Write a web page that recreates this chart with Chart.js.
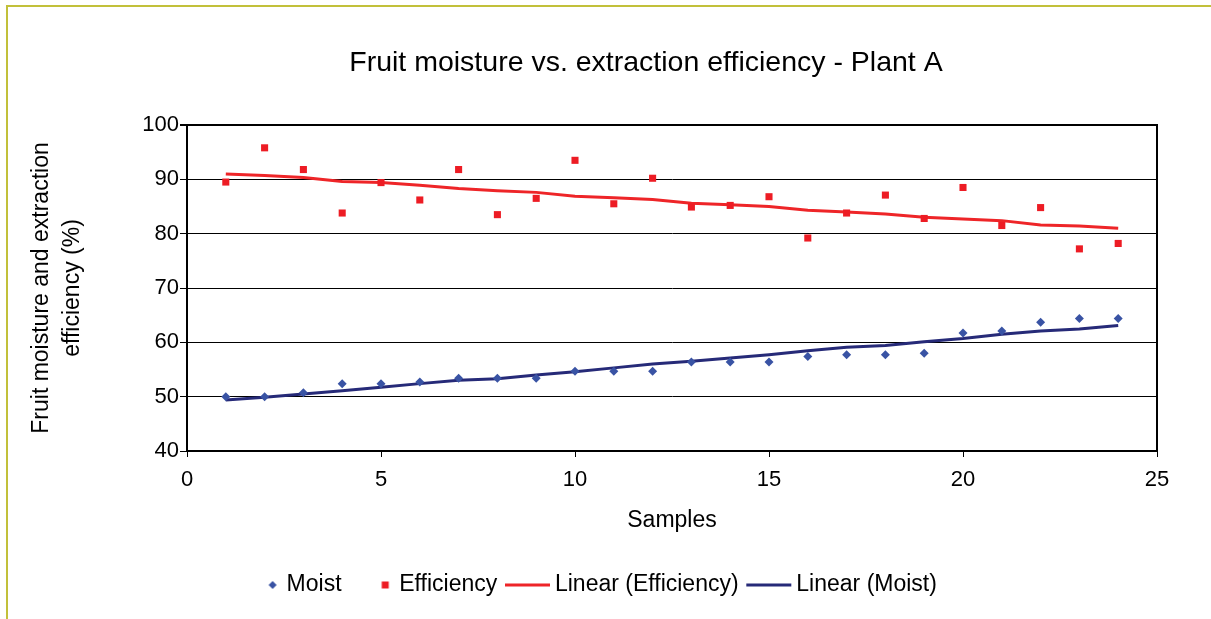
<!DOCTYPE html>
<html><head><meta charset="utf-8">
<script src="https://cdn.jsdelivr.net/npm/chart.js@4.4.1/dist/chart.umd.min.js"></script>
<style>
html,body{margin:0;padding:0;background:#fff;overflow:hidden;}
#wrap{position:relative;width:1211px;height:619px;}
#frame{position:absolute;left:6px;top:5px;width:1400px;height:800px;border-left:2px solid #c2c03a;border-top:2px solid #c2c03a;box-sizing:border-box;}
canvas{position:absolute;left:0;top:0;}
</style></head><body>
<div id="wrap"><div id="frame"></div><canvas id="c" width="1211" height="619"></canvas></div>
<script>
const samples = [1,2,3,4,5,6,7,8,9,10,11,12,13,14,15,16,17,18,19,20,21,22,23,24];
const moist = [50.0,50.0,50.7,52.4,52.4,52.7,53.4,53.4,53.4,54.7,54.7,54.7,56.4,56.4,56.4,57.4,57.7,57.7,58.0,61.7,62.1,63.7,64.4,64.4];
const efficiency = [89.5,95.8,91.8,83.8,89.4,86.2,91.8,83.5,86.5,93.5,85.5,90.2,84.9,85.2,86.8,79.2,83.8,87.1,82.8,88.5,81.5,84.8,77.2,78.2];
const efficiencyTrend = [91.0,90.7,90.35,89.6,89.4,88.9,88.3,87.9,87.6,86.9,86.6,86.3,85.6,85.3,85.0,84.3,84.0,83.6,83.0,82.7,82.4,81.6,81.4,81.0];
const moistTrend = [49.4,49.9,50.5,51.1,51.75,52.4,53.0,53.3,54.0,54.6,55.3,56.0,56.5,57.1,57.7,58.45,59.1,59.4,60.1,60.7,61.5,62.1,62.45,63.1];
const xTicks = {min: 0, max: 25, step: 5};
const yTicks = {min: 40, max: 100, step: 10};
const titleText = 'Fruit moisture vs. extraction efficiency - Plant A';
const xTitle = 'Samples';
const yTitle = ['Fruit moisture and extraction', 'efficiency (%)'];

const BLUE = '#3953a4', RED = '#ed1c24', NAVY = '#262a78', RED_LINE = '#ee2528';

function pts(ys){ return samples.map((s,i)=>({x:s, y:ys[i]})); }

function legendIcon(kind, color){
  const c = document.createElement('canvas');
  c.width = 120; c.height = 20;
  const g = c.getContext('2d');
  g.fillStyle = color; g.strokeStyle = color;
  if (kind === 'diamond') {
    g.beginPath(); g.moveTo(58,6); g.lineTo(62,10); g.lineTo(58,14); g.lineTo(54,10); g.closePath(); g.fill();
  } else if (kind === 'square') {
    g.fillRect(54.5,6.5,7,7);
  } else {
    g.lineWidth = 3; g.beginPath(); g.moveTo(22,10); g.lineTo(67,10); g.stroke();
  }
  return c;
}

Chart.defaults.font.family = "'Liberation Sans', Arial, sans-serif";
Chart.defaults.color = '#000';

const titleShift = {
  id: 'titleShift',
  afterLayout(chart, args, opts){
    const t = chart.titleBlock;
    if (t) { t.left += opts.dx; t.right += opts.dx; }
  }
};

new Chart(document.getElementById('c'), {
  type: 'scatter',
  data: {
    datasets: [
      {label: 'Moist', data: pts(moist), pointStyle: 'rectRot', pointRadius: 4.5, backgroundColor: BLUE, borderColor: BLUE, borderWidth: 0, icon: 'diamond'},
      {label: 'Efficiency', data: pts(efficiency), pointStyle: 'rect', pointRadius: 5, backgroundColor: RED, borderColor: RED, borderWidth: 0, icon: 'square'},
      {label: 'Linear (Efficiency)', data: pts(efficiencyTrend), showLine: true, pointRadius: 0, borderColor: RED_LINE, backgroundColor: RED_LINE, borderWidth: 3, tension: 0, icon: 'line'},
      {label: 'Linear (Moist)', data: pts(moistTrend), showLine: true, pointRadius: 0, borderColor: NAVY, backgroundColor: NAVY, borderWidth: 3, tension: 0, icon: 'line'}
    ]
  },
  plugins: [titleShift],
  options: {
    responsive: false,
    animation: false,
    devicePixelRatio: 1,
    layout: {padding: {left: 20, right: 20, top: 0, bottom: 12.5}},
    plugins: {
      titleShift: {dx: 40.5},
      tooltip: {enabled: false},
      title: {
        display: true, text: titleText, color: '#000',
        font: {size: 28.5, weight: 'normal', lineHeight: 1.2},
        padding: {top: 45.9, bottom: 44.9}
      },
      legend: {
        position: 'bottom',
        labels: {
          usePointStyle: true,
          boxWidth: 1, boxHeight: 10,
          padding: 45.2,
          color: '#000',
          font: {size: 23},
          generateLabels(chart){
            return chart.data.datasets.map((ds, i) => ({
              text: ds.label,
              pointStyle: legendIcon(ds.icon, ds.borderColor),
              fillStyle: ds.backgroundColor,
              strokeStyle: ds.borderColor,
              lineWidth: 0,
              hidden: !chart.isDatasetVisible(i),
              datasetIndex: i,
              fontColor: '#000'
            }));
          }
        }
      }
    },
    scales: {
      x: {
        type: 'linear', position: 'bottom',
        min: xTicks.min, max: xTicks.max,
        ticks: {stepSize: xTicks.step, font: {size: 22}, color: '#000', padding: 10},
        grid: {drawOnChartArea: false, drawTicks: true, tickLength: 6, color: '#000'},
        border: {color: '#000', width: 2},
        title: {display: true, text: xTitle, color: '#000', font: {size: 23, lineHeight: 0.635}, padding: {top: 0, bottom: 0}},
        afterFit(s){ s.height = 77.3; }
      },
      y: {
        type: 'linear', position: 'left',
        min: yTicks.min, max: yTicks.max,
        ticks: {stepSize: yTicks.step, font: {size: 22}, color: '#000', padding: 1},
        grid: {color: '#000', lineWidth: c => (c.tick && c.tick.value === yTicks.max) ? 2 : 1, tickLength: 7, drawTicks: true},
        border: {color: '#000', width: 2},
        title: {display: true, text: yTitle, color: '#000', font: {size: 23, lineHeight: 31.3/23}, padding: {top: 6.05, bottom: 0}},
        afterFit(s){ s.width = 167; }
      },
      y2: {
        type: 'linear', position: 'right',
        min: yTicks.min, max: yTicks.max,
        ticks: {display: false},
        grid: {display: false, drawTicks: false},
        border: {display: true, color: '#000', width: 2},
        afterFit(s){ s.width = 34; }
      }
    }
  }
});
</script>
</body></html>
